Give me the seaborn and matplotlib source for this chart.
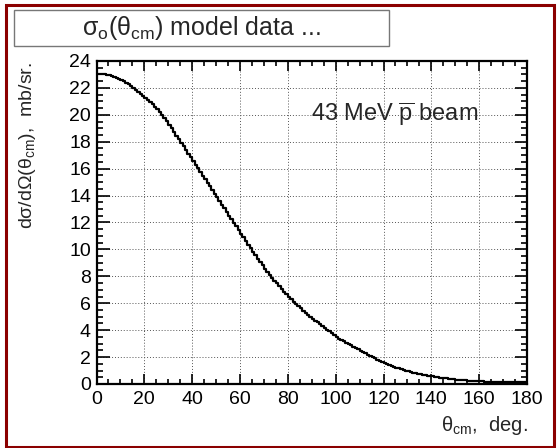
import numpy as np
import matplotlib
matplotlib.use("Agg")
import matplotlib.pyplot as plt
from matplotlib.patches import Rectangle
from matplotlib.ticker import MultipleLocator
import seaborn as sns

# ---- data (1-degree bins, 0..180 deg) ----
bin_edges = list(range(0, 181))
cross_section = [
    23.05, 23.04, 23.03, 23.01, 22.98, 22.93, 22.88, 22.82, 22.76, 22.68,
    22.59, 22.49, 22.39, 22.27, 22.15, 22.01, 21.87, 21.72, 21.56, 21.39,
    21.25, 21.10, 20.94, 20.77, 20.59, 20.40, 20.20, 19.99, 19.76, 19.52,
    19.27, 19.00, 18.73, 18.46, 18.19, 17.92, 17.65, 17.38, 17.11, 16.84,
    16.57, 16.30, 16.03, 15.76, 15.49, 15.22, 14.95, 14.68, 14.41, 14.14,
    13.87, 13.60, 13.33, 13.06, 12.79, 12.52, 12.25, 11.98, 11.71, 11.44,
    11.17, 10.90, 10.63, 10.36, 10.09, 9.83, 9.57, 9.31, 9.06, 8.81,
    8.56, 8.32, 8.08, 7.89, 7.68, 7.47, 7.26, 7.06, 6.86, 6.67,
    6.48, 6.30, 6.12, 5.95, 5.78, 5.62, 5.46, 5.30, 5.15, 5.00,
    4.85, 4.71, 4.57, 4.43, 4.30, 4.17, 4.04, 3.92, 3.80, 3.62,
    3.50, 3.38, 3.28, 3.18, 3.08, 2.98, 2.88, 2.78, 2.68, 2.58,
    2.48, 2.38, 2.28, 2.19, 2.10, 2.01, 1.91, 1.82, 1.73, 1.65,
    1.57, 1.49, 1.42, 1.35, 1.28, 1.22, 1.16, 1.10, 1.04, 0.99,
    0.94, 0.89, 0.85, 0.81, 0.77, 0.73, 0.69, 0.66, 0.62, 0.59,
    0.56, 0.53, 0.50, 0.48, 0.45, 0.43, 0.41, 0.39, 0.37, 0.35,
    0.33, 0.31, 0.30, 0.28, 0.27, 0.26, 0.24, 0.23, 0.22, 0.21,
    0.20, 0.19, 0.18, 0.18, 0.17, 0.16, 0.16, 0.15, 0.15, 0.14,
    0.14, 0.14, 0.13, 0.13, 0.13, 0.13, 0.13, 0.13, 0.13, 0.13,
]
x_ticks = [0, 20, 40, 60, 80, 100, 120, 140, 160, 180]
y_ticks = [0, 2, 4, 6, 8, 10, 12, 14, 16, 18, 20, 22, 24]
title_text = r"$\mathrm{\sigma_o(\theta_{cm})}$ model data ..."
xlabel_text = r"$\mathrm{\theta_{cm}}$,  deg."
ylabel_text = r"d$\mathrm{\sigma}$/d$\mathrm{\Omega}$($\mathrm{\theta_{cm}}$),  mb/sr."
note_text = r"43 MeV $\overline{\mathrm{p}}$ beam"

bin_centers = [(a + b) / 2 for a, b in zip(bin_edges[:-1], bin_edges[1:])]

sns.set_style("ticks")
plt.rcParams["font.family"] = ["Liberation Sans", "DejaVu Sans"]
plt.rcParams["mathtext.fontset"] = "custom"
plt.rcParams["mathtext.rm"] = "Liberation Sans"
plt.rcParams["mathtext.it"] = "Liberation Sans:italic"
plt.rcParams["mathtext.bf"] = "Liberation Sans:bold"

W, H = 558, 448
fig = plt.figure(figsize=(W / 100, H / 100), dpi=100)
fig.patch.set_facecolor("white")

L, R, T, B = 96.5, 527.0, 61.0, 384.0
ax = fig.add_axes([L / W, 1 - B / H, (R - L) / W, (B - T) / H])

sns.histplot(x=bin_centers, weights=cross_section, bins=bin_edges,
             element="step", fill=False, color="black", linewidth=1.6, ax=ax)

ax.set_xlim(0, 180)
ax.set_ylim(0, 24)
ax.set_xticks(x_ticks)
ax.set_yticks(y_ticks)
ax.xaxis.set_minor_locator(MultipleLocator(5))
ax.yaxis.set_minor_locator(MultipleLocator(0.5))
ax.set_xlabel("")
ax.set_ylabel("")
ax.grid(True, which="major", color="#555555", linestyle=(0, (1, 2)), linewidth=0.7)
ax.set_axisbelow(True)

for s in ax.spines.values():
    s.set_visible(True)
    s.set_linewidth(1.6)
    s.set_color("black")

ax.tick_params(which="both", direction="in", top=True, right=True,
               width=1.2, colors="black", labelsize=14)
ax.xaxis.set_tick_params(which="major", length=7, pad=5)
ax.xaxis.set_tick_params(which="minor", length=3.5)
ax.yaxis.set_tick_params(which="major", length=9, pad=4)
ax.yaxis.set_tick_params(which="minor", length=4.5)

ax.text(89.5, 20.05, note_text, fontsize=17, ha="left", va="center")

# title box
tb_l, tb_r, tb_t, tb_b = 13.5, 389.0, 10.0, 46.0
fig.patches.append(Rectangle((tb_l / W, 1 - tb_b / H), (tb_r - tb_l) / W, (tb_b - tb_t) / H,
                             transform=fig.transFigure, facecolor="white",
                             edgecolor="#777777", linewidth=1.0))
fig.text((tb_l + tb_r) / 2 / W, 1 - 28.5 / H, title_text, fontsize=18,
         ha="center", va="center")

# axis labels
fig.text(28 / W, 1 - 62 / H, ylabel_text, rotation=90, fontsize=14,
         ha="center", va="top")
fig.text(528 / W, 1 - 425 / H, xlabel_text, fontsize=14.5, ha="right", va="center")

# dark red frame
fig.patches.append(Rectangle((6 / W, 1 - 446.5 / H), (553.5 - 6) / W, (446.5 - 5.5) / H,
                             transform=fig.transFigure, facecolor="none",
                             edgecolor="#8b0000", linewidth=2.2))

fig.savefig("out.png", dpi=100)
